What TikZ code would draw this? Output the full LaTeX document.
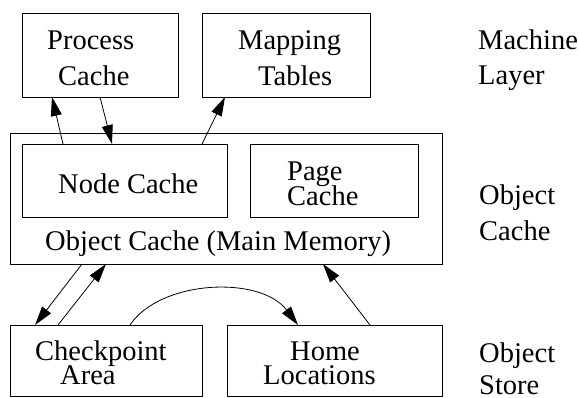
\documentclass[tikz,border=0pt]{standalone}
\usepackage{fontspec}
\setmainfont{Liberation Serif}
\newfontfamily\labelfont{Liberation Serif}
\usetikzlibrary{arrows.meta}
\begin{document}
\begin{tikzpicture}[x=1pt,y=-1pt,
  box/.style={draw,line width=1pt,inner sep=0pt,outer sep=0pt,anchor=north west},
  txt/.style={anchor=base west,inner sep=0pt,font=\labelfont\fontsize{28.5}{35}\selectfont},
  link/.style={line width=0.8pt,-{Triangle[length=19pt,width=11pt]}}]
\useasboundingbox (0,0) rectangle (579,397);

% machine layer
\node[box,minimum width=156pt,minimum height=84pt] (pc) at (22,13) {};
\node[box,minimum width=168pt,minimum height=84pt] (mt) at (202,13) {};
% object cache in main memory
\node[box,minimum width=432pt,minimum height=131pt] (oc) at (10,133) {};
\node[box,minimum width=205pt,minimum height=73pt] (nc) at (22,144) {};
\node[box,minimum width=168pt,minimum height=73pt] (pg) at (250,144) {};
% object store
\node[box,minimum width=192pt,minimum height=71pt] (cp) at (10,325) {};
\node[box,minimum width=215pt,minimum height=71pt] (hl) at (227,325) {};

% box texts
\node[txt] (t1) at (47,49) {Process};
\node[txt] (t2) at (58,85) {Cache};
\node[txt] (t3) at (238,49) {Mapping};
\node[txt] (t4) at (258,85) {Tables};
\node[txt] (t5) at (58,193) {Node Cache};
\node[txt] (t6) at (287,180) {Page};
\node[txt] (t7) at (287,205) {Cache};
\node[txt] (t8) at (45,250) {Object Cache (Main Memory)};
\node[txt] (t9) at (35,360) {Checkpoint};
\node[txt] (t10) at (60,384) {Area};
\node[txt] (t11) at (290,360) {Home};
\node[txt] (t12) at (263,384) {Locations};

% layer names
\node[txt] (l1) at (478,49) {Machine};
\node[txt] (l2) at (478,84) {Layer};
\node[txt] (l3) at (479,204) {Object};
\node[txt] (l4) at (479,240) {Cache};
\node[txt] (l5) at (479,362) {Object};
\node[txt] (l6) at (479,394) {Store};

% connectors
\draw[link] ([xshift=41pt]nc.north west) -- ([xshift=30pt]pc.south west);
\draw[link] ([xshift=78pt]pc.south west) -- ([xshift=90pt]nc.north west);
\draw[link] ([xshift=180pt]nc.north west) -- ([xshift=23pt]mt.south west);
\draw[link] ([xshift=72pt]oc.south west) -- ([xshift=25pt]cp.north west);
\draw[link] ([xshift=48pt]cp.north west) -- ([xshift=96pt]oc.south west);
\draw[link] ([xshift=120pt]cp.north west) .. controls +(30,-45) and +(-38,-50) .. ([xshift=71pt]hl.north west);
\draw[link] ([xshift=143pt]hl.north west) -- ([xshift=313pt]oc.south west);
\end{tikzpicture}
\end{document}
